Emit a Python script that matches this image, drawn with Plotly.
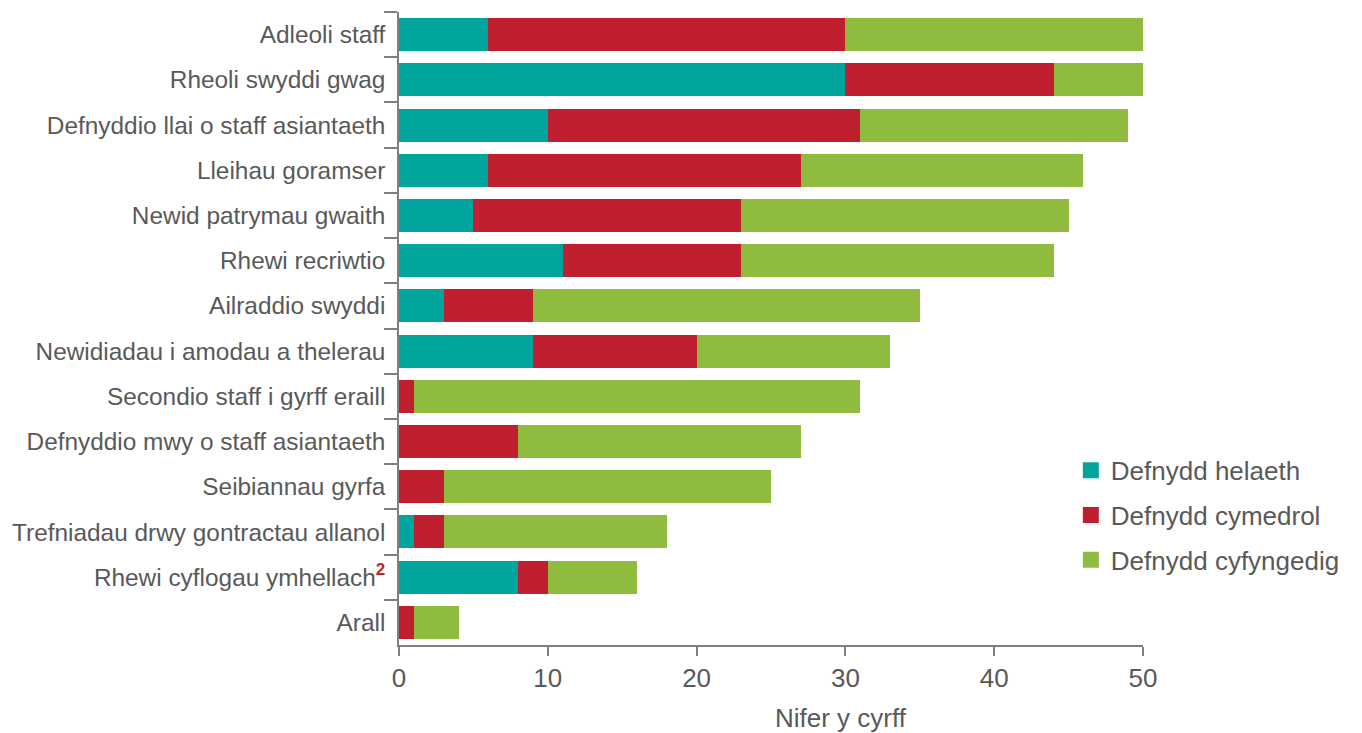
import plotly.graph_objects as go

# Categories (top to bottom) and counts for each level of use
categories = [
    "Adleoli staff",
    "Rheoli swyddi gwag",
    "Defnyddio llai o staff asiantaeth",
    "Lleihau goramser",
    "Newid patrymau gwaith",
    "Rhewi recriwtio",
    "Ailraddio swyddi",
    "Newidiadau i amodau a thelerau",
    "Secondio staff i gyrff eraill",
    "Defnyddio mwy o staff asiantaeth",
    "Seibiannau gyrfa",
    "Trefniadau drwy gontractau allanol",
    "Rhewi cyflogau ymhellach<b><span style='color:#C01F2F'><sup>2</sup></span></b>",
    "Arall",
]
helaeth = [6, 30, 10, 6, 5, 11, 3, 9, 0, 0, 0, 1, 8, 0]
cymedrol = [24, 14, 21, 21, 18, 12, 6, 11, 1, 8, 3, 2, 2, 1]
cyfyngedig = [20, 6, 18, 19, 22, 21, 26, 13, 30, 19, 22, 15, 6, 3]

series = [
    ("Defnydd helaeth", helaeth, "#00A59D"),
    ("Defnydd cymedrol", cymedrol, "#C01F2F"),
    ("Defnydd cyfyngedig", cyfyngedig, "#8FBB3F"),
]

fig = go.Figure()
for name, vals, color in series:
    fig.add_trace(go.Bar(
        y=categories, x=vals, name=name, orientation="h",
        marker=dict(color=color, line=dict(width=0)),
        showlegend=False,
    ))
# legend entries with larger square swatches
for name, vals, color in series:
    fig.add_trace(go.Scatter(
        x=[None], y=[None], mode="markers", name=name,
        legendgroup=name,
        marker=dict(symbol="square", size=18, color=color),
    ))

grey = "#595959"
axcol = "#7f7f7f"
# page body has an 8px margin, so the figure is 1354x725 and shifted up/left
fig.update_layout(
    barmode="stack",
    bargap=0.27,
    width=1354, height=725,
    margin=dict(l=391, r=219, t=4, b=88),
    plot_bgcolor="white", paper_bgcolor="white",
    font=dict(family="Liberation Sans, Arial, sans-serif", size=24, color=grey),
    legend=dict(
        x=0.903, y=0.205, xanchor="left", yanchor="middle",
        traceorder="grouped", tracegroupgap=8,
        font=dict(size=26, color=grey),
        itemwidth=30,
    ),
    showlegend=True,
)
fig.update_xaxes(
    range=[0, 50], dtick=10, showgrid=False, zeroline=False,
    showline=True, linecolor=axcol, linewidth=1.5,
    ticks="outside", ticklen=9, tickcolor=axcol, tickwidth=1.5,
    tickfont=dict(size=26, color=grey),
)
fig.update_yaxes(
    autorange="reversed", showgrid=False,
    showline=True, linecolor=axcol, linewidth=1.5,
    ticks="outside", ticklen=13, tickcolor=axcol, tickwidth=1.5,
    tickson="boundaries", ticklabelstandoff=7,
    tickfont=dict(size=24.4, color=grey),
)
fig.add_annotation(
    text="Nifer y cyrff", xref="paper", yref="paper",
    x=0.594, y=-0.1153, xanchor="center", yanchor="middle",
    showarrow=False, font=dict(size=26, color=grey),
)

fig.write_html("out.html")
